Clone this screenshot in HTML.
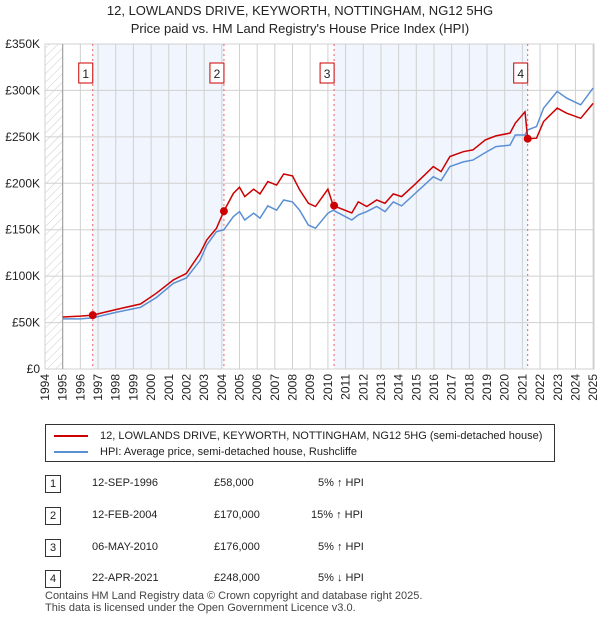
<!DOCTYPE html>
<html><head><meta charset="utf-8"><style>
body{margin:0;background:#fff;font-family:"Liberation Sans","DejaVu Sans",sans-serif;}
#wrap{position:relative;width:600px;height:620px;overflow:hidden;}
.t{position:absolute;left:0;width:600px;text-align:center;font-size:13px;color:#222;}
</style></head><body>
<div id="wrap">
<div class="t" style="top:3px">12, LOWLANDS DRIVE, KEYWORTH, NOTTINGHAM, NG12 5HG</div>
<div class="t" style="top:21px">Price paid vs. HM Land Registry's House Price Index (HPI)</div>
<svg id="svg" width="600" height="620" style="position:absolute;left:0;top:0"></svg>
</div>
<script>
const years=[1995,1996,1996.7,1998,1999.4,2000.3,2001.26,2002,2002.77,2003.15,2003.7,2004.12,2004.65,2005,2005.3,2005.8,2006.16,2006.6,2007.1,2007.5,2008,2008.4,2008.9,2009.3,2010,2010.3,2011.35,2011.72,2012.2,2012.76,2013.23,2013.7,2014.17,2014.93,2015.96,2016.4,2016.9,2017.66,2018.2,2018.9,2019.5,2020.3,2020.6,2021.15,2021.3,2021.8,2022.2,2022.97,2023.5,2024.3,2025];
const priceSeries=[56,57,58,64,70,81.6,95.9,103,124.7,139,151.6,170,189,195.8,185.7,193.6,188.6,201.8,198,210,208,193,178.5,175,193.6,176,168,180,175,182,178.5,188.6,185.7,199,218,212.6,228.8,234,236,246.7,251,254,264.7,277,248,248.6,266.5,281,275.5,270,286];
const hpiSeries=[54,54,55,61,66.5,77,92.3,98,117,133.6,148,150,164,169.5,160.5,167.8,162.4,175.6,171,182,180,171,155,151.6,167.8,171,160.5,166,169.5,175,169.5,180,175.6,189,207,203,218,223,225,233,239.5,241,252,252,257.5,261,281,299,291.7,284.5,302.5];
const saleYears=[1996.7,2004.12,2010.35,2021.3];
const salePrices=[58,170,176,248];
const yTicks=[0,50,100,150,200,250,300,350];
const yTickLabels=["£0","£50K","£100K","£150K","£200K","£250K","£300K","£350K"];
const xTicks=[1994,1995,1996,1997,1998,1999,2000,2001,2002,2003,2004,2005,2006,2007,2008,2009,2010,2011,2012,2013,2014,2015,2016,2017,2018,2019,2020,2021,2022,2023,2024,2025];

const L=45,R=594,T=44,B=369,x0=1994,x1=2025.05;
const X=y=>L+(y-x0)/(x1-x0)*(R-L);
const Y=v=>B-v/350*(B-T);
const svg=document.getElementById('svg');const NS='http://www.w3.org/2000/svg';
function mk(tag,attrs,parent){const e=document.createElementNS(NS,tag);for(const k in attrs)e.setAttribute(k,attrs[k]);(parent||svg).appendChild(e);return e;}
// defs hatch
const defs=mk('defs',{});const pat=mk('pattern',{id:'hatch',width:6,height:6,patternUnits:'userSpaceOnUse',patternTransform:'rotate(45)'},defs);
mk('line',{x1:0,y1:0,x2:0,y2:6,stroke:'#ccc','stroke-width':1},pat);
let e=mk('rect',{x:L,y:T,width:R-L,height:B-T,fill:'#fff',stroke:'#ccc'});

e=mk('rect',{x:L,y:T,width:X(1995)-L,height:B-T,fill:'url(#hatch)'});

// shading
[[0,1],[2,3]].forEach(p=>{const s=mk('rect',{x:X(saleYears[p[0]]),y:T,width:X(saleYears[p[1]])-X(saleYears[p[0]]),height:B-T,fill:'#eef2fc',opacity:0.8});
});
// grid
xTicks.forEach(t=>{const g=mk('line',{x1:X(t),x2:X(t),y1:T,y2:B,stroke:'#d0d0d0'});

const tx=mk('text',{x:0,y:0,'font-size':12,fill:'#222','text-anchor':'end',transform:`translate(${X(t)+4},${B+5}) rotate(-90)`});tx.textContent=t;
});
yTicks.forEach((t,i)=>{const g=mk('line',{x1:L,x2:R,y1:Y(t),y2:Y(t),stroke:'#d0d0d0'});

const tx=mk('text',{x:40,y:Y(t)+4,'font-size':12,fill:'#222','text-anchor':'end'});tx.textContent=yTickLabels[i];
});
e=mk('line',{x1:X(1995),x2:X(1995),y1:T,y2:B,stroke:'#999'});
// sale vlines + labels
saleYears.forEach((s,i)=>{const l=mk('line',{x1:X(s),x2:X(s),y1:T,y2:B,stroke:'#f06060','stroke-dasharray':'2,3'});

const bx=mk('rect',{x:X(s)-14,y:63,width:14,height:20,fill:'#fff',stroke:'#c00'});

const tx=mk('text',{x:X(s)-7,y:78,'font-size':12,'text-anchor':'middle',fill:'#222'});tx.textContent=i+1;
});
function path(vals,col,name){const d=years.map((y,i)=>(i?'L':'M')+X(y).toFixed(1)+','+Y(vals[i]).toFixed(1)).join('');
const p=mk('path',{d:d,fill:'none',stroke:col,'stroke-width':1.5});}
path(hpiSeries,'#5b8fd4','hpi-line');path(priceSeries,'#cc0000','price-line');
saleYears.forEach((s,i)=>{const c=mk('circle',{cx:X(s),cy:Y(salePrices[i]),r:4,fill:'#cc0000'});
});
</script>
<div style="position:absolute;left:45px;top:424px;width:508px;height:36px;border:1px solid #333;font-size:11px;color:#222">
<div style="position:absolute;left:8px;top:5px"><span style="display:inline-block;width:34px;border-top:2px solid #c00;vertical-align:middle;margin-right:12px"></span>12, LOWLANDS DRIVE, KEYWORTH, NOTTINGHAM, NG12 5HG (semi-detached house)</div>
<div style="position:absolute;left:8px;top:21px"><span style="display:inline-block;width:34px;border-top:2px solid #5b8fd4;vertical-align:middle;margin-right:12px"></span>HPI: Average price, semi-detached house, Rushcliffe</div>
</div>
<div style="position:absolute;left:0;top:0;font-size:11px;color:#222">
<div style="position:absolute;left:45px;top:475px;width:14px;height:16px;border:1px solid #333;text-align:center;line-height:16px">1</div>
<div style="position:absolute;left:92px;top:477px;white-space:nowrap">12-SEP-1996</div><div style="position:absolute;left:214px;top:477px">£58,000</div><div style="position:absolute;left:318px;top:477px;white-space:nowrap">5% ↑ HPI</div>
<div style="position:absolute;left:45px;top:507px;width:14px;height:16px;border:1px solid #333;text-align:center;line-height:16px">2</div>
<div style="position:absolute;left:92px;top:509px;white-space:nowrap">12-FEB-2004</div><div style="position:absolute;left:214px;top:509px">£170,000</div><div style="position:absolute;left:311px;top:509px;white-space:nowrap">15% ↑ HPI</div>
<div style="position:absolute;left:45px;top:539px;width:14px;height:16px;border:1px solid #333;text-align:center;line-height:16px">3</div>
<div style="position:absolute;left:92px;top:541px;white-space:nowrap">06-MAY-2010</div><div style="position:absolute;left:214px;top:541px">£176,000</div><div style="position:absolute;left:318px;top:541px;white-space:nowrap">5% ↑ HPI</div>
<div style="position:absolute;left:45px;top:570px;width:14px;height:16px;border:1px solid #333;text-align:center;line-height:16px">4</div>
<div style="position:absolute;left:92px;top:572px;white-space:nowrap">22-APR-2021</div><div style="position:absolute;left:214px;top:572px">£248,000</div><div style="position:absolute;left:318px;top:572px;white-space:nowrap">5% ↓ HPI</div>
</div>
<div style="position:absolute;left:45px;top:590px;font-size:11px;color:#444;line-height:12px">Contains HM Land Registry data © Crown copyright and database right 2025.<br>This data is licensed under the Open Government Licence v3.0.</div>
</body></html>
